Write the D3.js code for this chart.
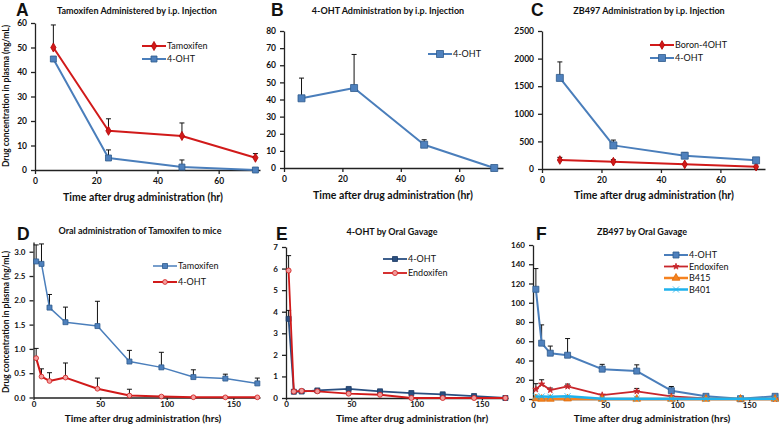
<!DOCTYPE html>
<html><head><meta charset="utf-8">
<script src="https://cdn.jsdelivr.net/npm/d3@7/dist/d3.min.js"></script>
<style>
body{margin:0;background:#fff}
svg{display:block}
text{font-family:Lato,"Liberation Sans",sans-serif;fill:#111}
</style>
</head><body>
<svg id="c" width="779" height="428"></svg>
<script>
// ---------- DATA ----------
const timeIP = [6, 24, 48, 72];
const timeOral = [2, 6, 12, 24, 48, 72, 96, 120, 144, 168];

// Panel A
const tamA = [50, 16, 13.9, 5];
const tamAErr = [9.2, 4.9, 5.3, 1.7];
const ohtA = [45.3, 4.9, 1.2, 0];
const ohtAErr = [0, 3.3, 2.9, 0];
// Panel B
const ohtB = [40.7, 46.7, 13.6, 0];
const ohtBErr = [11.8, 19.6, 2.9, 0];
// Panel C
const boronC = [163, 133, 84, 42];
const boronCErr = [48, 36, 0, 0];
const ohtC = [1650, 428, 241, 157];
const ohtCErr = [290, 96, 54, 36];
// Panel D
const tamD = [2.80, 2.75, 1.85, 1.55, 1.47, 0.74, 0.62, 0.42, 0.39, 0.29];
const tamDErr = [0.34, 0.41, 0.27, 0.31, 0.51, 0.23, 0.31, 0.15, 0.09, 0.11];
const ohtD = [0.81, 0.43, 0.34, 0.41, 0.18, 0.04, 0.02, 0.005, 0.003, 0.003];
const ohtDErr = [0.20, 0.16, 0.17, 0.30, 0.22, 0.13, 0.02, 0, 0, 0];
// Panel E
const ohtE = [3.67, 0.29, 0.30, 0.35, 0.42, 0.31, 0.23, 0.17, 0.09, 0];
const ohtEErr = [0.39, 0.05, 0.05, 0.05, 0.05, 0.03, 0.03, 0.02, 0.02, 0];
const endoE = [5.91, 0.30, 0.33, 0.31, 0.20, 0.15, 0, 0, 0, 0];
const endoEErr = [0.69, 0.05, 0.05, 0.03, 0.03, 0.03, 0, 0, 0, 0];
// Panel F
const ohtF = [114, 58, 47.6, 45.5, 31, 29, 8.6, 2.8, 0.3, 2.8];
const ohtFErr = [21.5, 19, 7.4, 17.3, 5, 6.5, 4.4, 0, 0, 0];
const endoF = [10, 15.5, 9.3, 13, 4.1, 8, 2.8, 0.7, 0, 0];
const endoFErr = [5.9, 4.5, 2.1, 2.5, 0, 3, 0, 0, 0, 0];
const b415F = [0.5, 0, 0, 0.3, 0, 0, 0, 0, 0, 0];
const b401F = [2.6, 2.6, 2.4, 2.9, 0.3, 0.3, 0.3, 0.2, 0.2, 0.3];

// tick labels
const ticksIPx = [0, 20, 40, 60];
const ticksOralx = [0, 50, 100, 150];
const ticksA = [0, 10, 20, 30, 40, 50, 60];
const ticksB = [0, 10, 20, 30, 40, 50, 60, 70, 80];
const ticksC = [0, 500, 1000, 1500, 2000, 2500];
const ticksD = [0, 0.5, 1.0, 1.5, 2.0, 2.5, 3.0];
const ticksE = [0, 1, 2, 3, 4, 5, 6, 7];
const ticksF = [0, 20, 40, 60, 80, 100, 120, 140, 160];

// ---------- STYLES ----------
const BLUE = {line: "#4a7ebb", fill: "#4f81bd", stroke: "#2f5a8c"};
const RED = {line: "#d11a1a", fill: "#d11a1a", stroke: "#b00000"};
const NAVY = {line: "#2a4f80", fill: "#2a4f80", stroke: "#1c3a63"};

const svg = d3.select("#c");

function panel(cfg) {
  const x = d3.scaleLinear().domain(cfg.xDomain).range(cfg.xRange);
  const y = d3.scaleLinear().domain(cfg.yDomain).range(cfg.yRange);
  const g = svg.append("g");

  const xa = d3.axisBottom(x).tickValues(cfg.xTicks).tickSize(cfg.xTickSize || 4)
    .tickPadding(cfg.xTickPad || 4).tickSizeOuter(0);
  const gx = g.append("g").attr("transform", `translate(0,${cfg.yRange[0]})`).call(xa);
  const ya = d3.axisLeft(y).tickValues(cfg.yTicks).tickSize(4).tickPadding(4).tickSizeOuter(0)
    .tickFormat(cfg.yFmt || d3.format("d"));
  const gy = g.append("g").attr("transform", `translate(${cfg.xRange[0]},0)`).call(ya);
  [gx, gy].forEach(a => {
    a.select(".domain").attr("stroke", "#222").attr("stroke-width", 1.3);
    a.selectAll(".tick line").attr("stroke", "#222").attr("stroke-width", 1.3);
    a.selectAll(".tick text").attr("font-size", cfg.tickFont || 8.5).attr("font-weight", "bold").attr("fill", "#111")
      .style("font-family", "Lato, 'Liberation Sans', sans-serif");
  });

  cfg.series.forEach(s => {
    const pts = cfg.time.map((t, i) => ({t, v: s.values[i], e: s.err ? s.err[i] : 0}));
    const eb = g.append("g");
    pts.filter(p => p.e > 0).forEach(p => {
      const px = x(p.t), py = y(p.v), pt = y(p.v + p.e);
      eb.append("line").attr("x1", px).attr("x2", px).attr("y1", py).attr("y2", pt)
        .attr("stroke", "#111").attr("stroke-width", 1);
      eb.append("line").attr("x1", px - 2.5).attr("x2", px + 2.5).attr("y1", pt).attr("y2", pt)
        .attr("stroke", "#111").attr("stroke-width", 1);
    });
  });
  cfg.series.forEach(s => {
    const pts = cfg.time.map((t, i) => ({t, v: s.values[i]}));
    g.append("path").datum(pts)
      .attr("d", d3.line().x(p => x(p.t)).y(p => y(p.v)))
      .attr("fill", "none").attr("stroke", s.color.line).attr("stroke-width", s.width || 2)
      .attr("stroke-linejoin", "round");
    g.selectAll(null).data(pts).join("path")
      .attr("transform", p => `translate(${x(p.t)},${y(p.v)})`)
      .attr("d", d3.symbol().type(s.shape).size(s.size))
      .attr("fill", s.mfill || s.color.fill).attr("stroke", s.mstroke || s.color.stroke).attr("stroke-width", 0.8);
  });

  // legend
  cfg.series.forEach((s, i) => {
    const ly = cfg.legend.y + i * cfg.legend.dy;
    const lx = cfg.legend.x;
    g.append("line").attr("x1", lx).attr("x2", lx + 24).attr("y1", ly).attr("y2", ly)
      .attr("stroke", s.color.line).attr("stroke-width", s.width || 2);
    g.append("path").attr("transform", `translate(${lx + 12},${ly})`)
      .attr("d", d3.symbol().type(s.shape).size(s.size))
      .attr("fill", s.mfill || s.color.fill).attr("stroke", s.mstroke || s.color.stroke).attr("stroke-width", 0.8);
    g.append("text").attr("x", lx + 25).attr("y", ly).attr("dy", "0.35em")
      .attr("font-size", 9).text(s.name);
  });

  // titles
  g.append("text").attr("x", cfg.letter[0]).attr("y", cfg.letter[1])
    .attr("font-size", 17.5).attr("font-weight", "bold").style("font-family", "'Liberation Sans', Arial, sans-serif")
    .text(cfg.letterText);
  g.append("text").attr("x", cfg.title[0]).attr("y", cfg.title[1]).attr("text-anchor", "middle")
    .attr("font-size", 9).attr("font-weight", "bold").text(cfg.titleText);
  g.append("text").attr("x", cfg.xTitle[0]).attr("y", cfg.xTitle[1]).attr("text-anchor", "middle")
    .attr("font-size", cfg.xTitleFont || 10.5).attr("font-weight", "bold").text(cfg.xTitleText);
  if (cfg.yTitle) {
    g.append("text").attr("transform", `translate(${cfg.yTitle[0]},${cfg.yTitle[1]}) rotate(-90)`)
      .attr("text-anchor", "middle").attr("font-size", 8.5).attr("font-weight", "bold")
      .text("Drug concentration in plasma (ng/mL)");
  }
}

const bottomAxis = {xTickSize: 2.5, xTickPad: 1, tickFont: 8, xTitleFont: 10};

panel({
  time: timeIP, xDomain: [0, 73.5], xRange: [35, 260], yDomain: [0, 60], yRange: [170, 23],
  xTicks: ticksIPx, yTicks: ticksA,
  series: [
    {name: "Tamoxifen", values: tamA, err: tamAErr, color: RED, shape: d3.symbolDiamond, size: 24},
    {name: "4-OHT", values: ohtA, err: ohtAErr, color: BLUE, shape: d3.symbolSquare, size: 36}
  ],
  legend: {x: 142, y: 46, dy: 13},
  letter: [16, 16.2], letterText: "A",
  title: [137, 14], titleText: "Tamoxifen Administered by i.p. Injection",
  xTitle: [143, 201], xTitleText: "Time after drug administration (hr)",
  yTitle: [9, 96]
});

panel({
  time: timeIP, xDomain: [0, 75], xRange: [284, 503], yDomain: [0, 80], yRange: [168, 31],
  xTicks: ticksIPx, yTicks: ticksB,
  series: [
    {name: "4-OHT", values: ohtB, err: ohtBErr, color: BLUE, shape: d3.symbolSquare, size: 49}
  ],
  legend: {x: 428, y: 54, dy: 13},
  letter: [271, 16.2], letterText: "B",
  title: [388, 14], titleText: "4-OHT Administration by i.p. Injection",
  xTitle: [393, 199], xTitleText: "Time after drug administration (hr)"
});

panel({
  time: timeIP, xDomain: [0, 75], xRange: [542, 765], yDomain: [0, 2500], yRange: [169, 31],
  xTicks: ticksIPx, yTicks: ticksC,
  series: [
    {name: "Boron-4OHT", values: boronC, err: boronCErr, color: RED, shape: d3.symbolDiamond, size: 22},
    {name: "4-OHT", values: ohtC, err: ohtCErr, color: BLUE, shape: d3.symbolSquare, size: 49}
  ],
  legend: {x: 650, y: 45, dy: 13},
  letter: [531, 16.2], letterText: "C",
  title: [649, 14], titleText: "ZB497 Administration by i.p. Injection",
  xTitle: [654, 199], xTitleText: "Time after drug administration (hr)"
});

panel(Object.assign({
  time: timeOral, xDomain: [0, 170], xRange: [33.5, 260], yDomain: [0, 3.2], yRange: [397.5, 242],
  xTicks: ticksOralx, yTicks: ticksD, yFmt: d3.format(".1f"),
  series: [
    {name: "Tamoxifen", values: tamD, err: tamDErr, color: BLUE, shape: d3.symbolSquare, size: 25, width: 1.5},
    {name: "4-OHT", values: ohtD, err: ohtDErr, color: RED, shape: d3.symbolCircle, size: 18, width: 2,
     mfill: "#f3a0a0", mstroke: "#d11a1a"}
  ],
  legend: {x: 153, y: 266, dy: 16},
  letter: [17, 240], letterText: "D",
  title: [140, 234], titleText: "Oral administration of Tamoxifen to mice",
  xTitle: [143, 422], xTitleText: "Time after drug administration (hrs)",
  yTitle: [9, 322]
}, bottomAxis));

panel(Object.assign({
  time: timeOral, xDomain: [0, 170], xRange: [286, 508], yDomain: [0, 7], yRange: [398, 247],
  xTicks: ticksOralx, yTicks: ticksE,
  series: [
    {name: "4-OHT", values: ohtE, err: ohtEErr, color: NAVY, shape: d3.symbolSquare, size: 25, width: 1.8},
    {name: "Endoxifen", values: endoE, err: endoEErr, color: RED, shape: d3.symbolCircle, size: 20, width: 1.8,
     mfill: "#f09a9a", mstroke: "#d11a1a"}
  ],
  legend: {x: 383, y: 259, dy: 14},
  letter: [276, 240], letterText: "E",
  title: [392, 235], titleText: "4-OHT by Oral Gavage",
  xTitle: [412, 422], xTitleText: "Time after drug administration (hr)"
}, bottomAxis));

panel(Object.assign({
  time: timeOral, xDomain: [0, 170], xRange: [533, 778], yDomain: [0, 160], yRange: [399, 245],
  xTicks: ticksOralx, yTicks: ticksF,
  series: [
    {name: "4-OHT", values: ohtF, err: ohtFErr, color: BLUE, shape: d3.symbolSquare, size: 36, width: 2},
    {name: "Endoxifen", values: endoF, err: endoFErr, color: {line: "#c8262b", fill: "#c8262b", stroke: "#c8262b"},
     shape: d3.symbolStar, size: 12, width: 1.8},
    {name: "B415", values: b415F, color: {line: "#f5821f", fill: "#f5821f", stroke: "#e06c0a"},
     shape: d3.symbolTriangle, size: 26, width: 2.5},
    {name: "B401", values: b401F, color: {line: "#1fb2ec", fill: "#7fd3f3", stroke: "#1fb2ec"},
     shape: d3.symbolX, size: 26, width: 2.5}
  ],
  legend: {x: 664, y: 255, dy: 11.5},
  letter: [536, 240], letterText: "F",
  title: [642, 235], titleText: "ZB497 by Oral Gavage",
  xTitle: [652, 422], xTitleText: "Time after drug administration (hrs)"
}, bottomAxis));
</script>
</body></html>
